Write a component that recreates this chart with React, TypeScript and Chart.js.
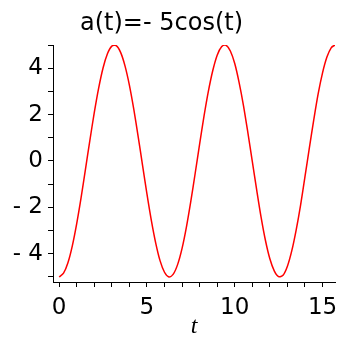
import React, { useEffect, useRef } from "react";
import { Chart, registerables } from "chart.js";

Chart.register(...registerables);

const TITLE = "a(t)=- 5cos(t)";
const X_LABEL = "t";

const tValues = [
  0, 0.25, 0.5, 0.75, 1, 1.25, 1.5, 1.75, 2, 2.25, 2.5, 2.75, 3, 3.25, 3.5, 3.75,
  4, 4.25, 4.5, 4.75, 5, 5.25, 5.5, 5.75, 6, 6.25, 6.5, 6.75, 7, 7.25, 7.5, 7.75,
  8, 8.25, 8.5, 8.75, 9, 9.25, 9.5, 9.75, 10, 10.25, 10.5, 10.75, 11, 11.25, 11.5, 11.75,
  12, 12.25, 12.5, 12.75, 13, 13.25, 13.5, 13.75, 14, 14.25, 14.5, 14.75, 15, 15.25, 15.5, 15.71,
];

const aValues = [
  -5.0, -4.84, -4.39, -3.66, -2.7, -1.58, -0.35, 0.89, 2.08, 3.14, 4.01, 4.62, 4.95, 4.97, 4.68, 4.1,
  3.27, 2.23, 1.05, -0.19, -1.42, -2.56, -3.54, -4.31, -4.8, -5.0, -4.88, -4.46, -3.77, -2.84, -1.73, -0.52,
  0.73, 1.93, 3.01, 3.9, 4.56, 4.92, 4.99, 4.74, 4.2, 3.38, 2.38, 1.21, -0.02, -1.25, -2.42, -3.43,
  -4.22, -4.74, -4.99, -4.93, -4.54, -3.87, -2.97, -1.9, -0.68, 0.56, 1.77, 2.89, 3.8, 4.48, 4.89, 5.0,
];

const xLabeledTicks = [0, 5, 10, 15];
const yLabeledTicks = [-4, -2, 0, 2, 4];

const TICK_FONT = { family: "DejaVu Sans", size: 23 };

const titlePlugin = {
  id: "mapleTitle",
  afterDraw(chart: any) {
    const ctx = chart.ctx;
    ctx.save();
    ctx.font = "24px 'DejaVu Sans'";
    ctx.fillStyle = "#000";
    ctx.textAlign = "center";
    ctx.textBaseline = "middle";
    ctx.fillText(TITLE, chart.width / 2 - 8, 24);
    ctx.restore();
  },
};

function fmt(v: number) {
  return v < 0 ? "- " + Math.abs(v) : String(v);
}

export default function App() {
  const ref = useRef<HTMLCanvasElement | null>(null);

  useEffect(() => {
    if (!ref.current) return;
    const chart = new Chart(ref.current, {
      type: "line",
      data: {
        datasets: [
          {
            data: tValues.map((t, i) => ({ x: t, y: aValues[i] })),
            borderColor: "#ff0000",
            borderWidth: 1.5,
            pointRadius: 0,
            tension: 0.3,
            fill: false,
          },
        ],
      },
      plugins: [titlePlugin],
      options: {
        responsive: false,
        animation: false,
        layout: { padding: { top: 45, right: 4, left: 0, bottom: 0 } },
        plugins: {
          legend: { display: false },
          tooltip: { enabled: false },
          title: { display: false },
        },
        scales: {
          x: {
            type: "linear",
            min: -0.35,
            max: 15.71,
            afterFit(scale: any) {
              scale.height = 59;
              scale.paddingLeft = 0;
              scale.paddingRight = 0;
            },
            border: { display: true, color: "#000", width: 1 },
            grid: { drawOnChartArea: false, drawTicks: true, tickLength: 5, color: "#000" },
            ticks: {
              stepSize: 1,
              includeBounds: false,
              autoSkip: false,
              maxRotation: 0,
              padding: 7,
              color: "#000",
              font: TICK_FONT,
              callback: (v: any) => (xLabeledTicks.includes(Number(v)) ? fmt(Number(v)) : ""),
            },
            title: {
              display: true,
              text: X_LABEL,
              color: "#000",
              font: { family: "Liberation Serif", size: 24, style: "italic" },
              padding: { top: -8, bottom: 0 },
            },
          },
          y: {
            type: "linear",
            min: -5.22,
            max: 5,
            afterFit(scale: any) {
              scale.width = 53;
              scale.paddingTop = 0;
              scale.paddingBottom = 0;
            },
            border: { display: true, color: "#000", width: 1 },
            grid: { drawOnChartArea: false, drawTicks: true, tickLength: 5, color: "#000" },
            ticks: {
              stepSize: 1,
              includeBounds: false,
              autoSkip: false,
              padding: 5,
              color: "#000",
              font: TICK_FONT,
              callback: (v: any) => (yLabeledTicks.includes(Number(v)) ? fmt(Number(v)) : ""),
            },
          },
        },
      },
    });
    return () => chart.destroy();
  }, []);

  return (
    <div style={{ position: "fixed", left: 0, top: 0, width: 339, height: 341, background: "#fff" }}>
      <canvas ref={ref} width={339} height={341} style={{ display: "block" }} />
    </div>
  );
}
